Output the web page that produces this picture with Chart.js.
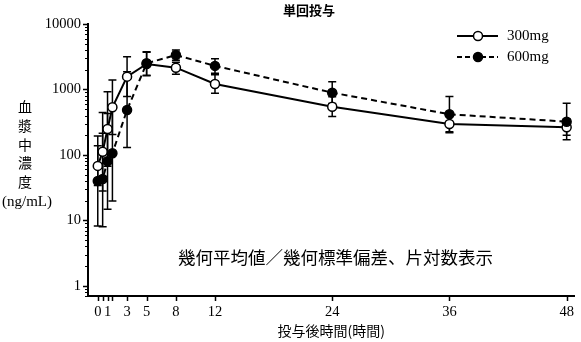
<!DOCTYPE html>
<html><head><meta charset="utf-8">
<script src="https://cdn.jsdelivr.net/npm/chart.js@4"></script>
<style>html,body{margin:0;padding:0;background:#fff}#wrap{width:581px;height:342px;position:relative}</style>
</head><body><div id="wrap"><canvas id="c" width="581" height="342" style="width:581px;height:342px"></canvas></div>
<script>
const times = [0, 0.5, 1, 1.5, 3, 5, 8, 12, 24, 36, 48];
const mean300 = [68, 112, 249, 535, 1570, 2450, 2150, 1210, 546, 297, 265];
const low300  = [34, 28, 67, 205, 780, 1650, 1710, 875, 385, 219, 200];
const high300 = [138, 443, 925, 1400, 3170, 3700, 2600, 1680, 775, 400, 350];
const mean600 = [40, 43, 80, 106, 486, 2510, 3360, 2290, 894, 418, 322];
const low600  = [8.2, 8, 14.8, 19.8, 130, 1625, 2800, 1770, 610, 225, 170];
const high600 = [195, 215, 430, 570, 1870, 3780, 4010, 2950, 1315, 780, 615];
const xTickValues = [0, 0.5, 1, 1.5, 3, 5, 8, 12, 24, 36, 48];
const xTickLabels = ['0', '', '1', '', '3', '5', '8', '12', '24', '36', '48'];
const yTickValues = [1, 10, 100, 1000, 10000];
const yTickLabels = ['1', '10', '100', '1000', '10000'];
const seriesNames = ['300mg', '600mg'];
const titleText = '単回投与';
const yTitleChars = ['血', '漿', '中', '濃', '度'];
const yUnit = '(ng/mL)';
const xTitle = '投与後時間(時間)';
const noteText = '幾何平均値／幾何標準偏差、片対数表示';

const SERIF = "'Liberation Serif', 'Noto Sans CJK JP', serif";
const CJK = "'Noto Sans CJK JP', 'Liberation Serif', sans-serif";

function pts(means){ return times.map((t,i)=>({x:t,y:means[i]})); }

const extras = {
  id: 'extras',
  beforeDatasetsDraw(chart){
    const ctx = chart.ctx, xs = chart.scales.x, ys = chart.scales.y;
    const sets = [[low300, high300], [low600, high600]];
    ctx.save();
    ctx.strokeStyle = '#000'; ctx.lineWidth = 1.5;
    sets.forEach(([lo, hi]) => {
      times.forEach((t, i) => {
        const px = xs.getPixelForValue(t);
        const y1 = ys.getPixelForValue(lo[i]), y2 = ys.getPixelForValue(hi[i]);
        ctx.beginPath();
        ctx.moveTo(px, y1); ctx.lineTo(px, y2);
        ctx.moveTo(px-4, y1); ctx.lineTo(px+4, y1);
        ctx.moveTo(px-4, y2); ctx.lineTo(px+4, y2);
        ctx.stroke();
      });
    });
    ctx.restore();
  },
  afterDraw(chart){
    const ctx = chart.ctx, xs = chart.scales.x, ys = chart.scales.y, ca = chart.chartArea;
    ctx.save();
    ctx.strokeStyle = '#000'; ctx.lineWidth = 1.5;
    xTickValues.forEach(v => {
      const px = Math.round(xs.getPixelForValue(v)) + 0.5;
      ctx.beginPath(); ctx.moveTo(px, ca.bottom); ctx.lineTo(px, ca.bottom + 5); ctx.stroke();
    });
    yTickValues.forEach(v => {
      const py = Math.round(ys.getPixelForValue(v)) + 0.5;
      ctx.beginPath(); ctx.moveTo(ca.left, py); ctx.lineTo(ca.left - 5, py); ctx.stroke();
    });
    ctx.lineWidth = 1;
    [0.1, 1, 10, 100, 1000].forEach(d => {
      for (let k = 2; k <= 9; k++) {
        const v = d * k;
        if (v < ys.min || v > ys.max) continue;
        const py = Math.round(ys.getPixelForValue(v)) + 0.5;
        ctx.beginPath(); ctx.moveTo(ca.left, py); ctx.lineTo(ca.left - 3, py); ctx.stroke();
      }
    });
    ctx.fillStyle = '#000';
    ctx.textAlign = 'center'; ctx.textBaseline = 'middle';
    ctx.font = 'bold 13px ' + CJK;
    ctx.fillText(titleText, 309, 10);
    ctx.font = '14px ' + CJK;
    const yPos = [107, 126, 145, 163, 182];
    yTitleChars.forEach((c, i) => ctx.fillText(c, 25, yPos[i]));
    ctx.font = '15px ' + SERIF;
    ctx.fillText(yUnit, 27, 202);
    ctx.textAlign = 'left';
    ctx.font = '17.5px ' + CJK;
    ctx.fillText(noteText, 178, 257);
    const leg = [{y: 36, dash: [], fill: '#fff'}, {y: 57, dash: [5, 3], fill: '#000'}];
    leg.forEach((l, i) => {
      ctx.lineWidth = 2; ctx.setLineDash(l.dash);
      ctx.beginPath(); ctx.moveTo(457, l.y); ctx.lineTo(498, l.y); ctx.stroke();
      ctx.setLineDash([]);
      ctx.lineWidth = 1.5;
      ctx.beginPath(); ctx.arc(478, l.y, 4.5, 0, Math.PI * 2);
      ctx.fillStyle = l.fill; ctx.fill(); ctx.stroke();
      ctx.fillStyle = '#000';
      ctx.font = '15px ' + SERIF; ctx.textAlign = 'left';
      ctx.fillText(seriesNames[i], 507, l.y);
    });
    ctx.restore();
  }
};

new Chart(document.getElementById('c'), {
  type: 'line',
  data: {
    datasets: [
      { label: seriesNames[1], data: pts(mean600), borderColor: '#000', borderWidth: 2, borderDash: [6, 4],
        pointRadius: 4.5, pointBackgroundColor: '#000', pointBorderColor: '#000', pointBorderWidth: 1.5, tension: 0, order: 1 },
      { label: seriesNames[0], data: pts(mean300), borderColor: '#000', borderWidth: 2,
        pointRadius: 4.5, pointBackgroundColor: '#fff', pointBorderColor: '#000', pointBorderWidth: 1.5, tension: 0, order: 2 }
    ]
  },
  options: {
    responsive: false, animation: false, devicePixelRatio: 1,
    layout: { padding: { top: 24, right: 1, left: 0, bottom: 0 } },
    plugins: { legend: { display: false }, tooltip: { enabled: false } },
    scales: {
      x: {
        type: 'linear', min: -1, max: 48.8,
        afterBuildTicks: s => { s.ticks = xTickValues.map(v => ({ value: v })); },
        afterFit: s => { s.height = 46; },
        grid: { display: false, drawTicks: false },
        border: { display: true, color: '#000', width: 2 },
        ticks: { autoSkip: false, maxRotation: 0, padding: 7, color: '#000',
          font: { family: SERIF, size: 14.5 }, callback: (v, i) => xTickLabels[i] },
        title: { display: true, text: xTitle, color: '#000', font: { family: CJK, size: 14 }, padding: { top: 5, bottom: 3 } }
      },
      y: {
        type: 'logarithmic', min: 0.7035, max: 10000,
        afterBuildTicks: s => { s.ticks = yTickValues.map(v => ({ value: v })); },
        afterFit: s => { s.width = 88; },
        grid: { display: false, drawTicks: false },
        border: { display: true, color: '#000', width: 2 },
        ticks: { padding: 7, color: '#000', font: { family: SERIF, size: 14.5 }, callback: (v, i) => yTickLabels[i] }
      }
    }
  },
  plugins: [extras]
});
</script>
</body></html>
